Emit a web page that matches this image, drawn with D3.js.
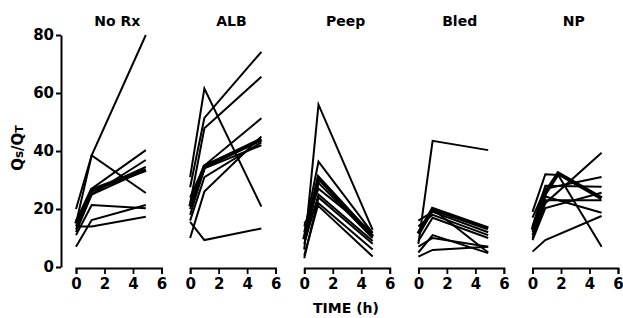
<!DOCTYPE html>
<html><head><meta charset="utf-8">
<script src="https://cdn.jsdelivr.net/npm/d3@7"></script>
<style>body{margin:0;background:#fff}svg{display:block}text{font-family:"DejaVu Sans",sans-serif;font-weight:bold;fill:#000}</style>
</head><body><div id="chart"></div>
<script>
const panelNames = ["No Rx", "ALB", "Peep", "Bled", "NP"];
const yTicks = [0, 20, 40, 60, 80];
const xTicks = [0, 2, 4, 6];

const timesNoRx = [0, 1.1, 4.9];
const linesNoRx = [[20, 38.5, 80], [15, 38.5, 25.5], [14, 27, 40.3], [16, 25, 36.9], [13, 26, 34.5], [12, 25, 33.5], [11, 21.4, 20.3], [7, 16.2, 21.4], [14, 14, 17.3]];
const meanNoRx = [15, 26.5, 33.5];

const timesALB = [0, 1, 5];
const linesALB = [[31, 61.5, 20.8], [27.5, 51.4, 74.2], [22, 47.8, 65.6], [20, 35, 51.3], [10, 26, 45], [15.6, 9.3, 13.3], [18, 34, 42], [24, 35, 44], [16, 31, 43]];
const meanALB = [20.8, 34.6, 44];

const timesPeep = [0, 1, 4.8];
const linesPeep = [[6, 56, 12.8], [12, 36.3, 11.7], [10, 29, 10], [14, 27, 12], [8, 25, 9], [4, 22, 6], [15, 21, 3.6], [3, 24, 8]];
const meanPeep = [9.5, 30.7, 10.5];

const timesBled = [0, 1, 4.9];
const linesBled = [[8, 43.5, 40.3], [16, 19, 12], [14, 18, 11], [9, 17, 10], [12, 20, 5], [7, 10, 7], [3.6, 5.9, 7], [5, 11, 4.8]];
const meanBled = [11.5, 20, 13.3];

const timesNP = [0, 0.9, 1.8, 4.85];
const linesNP = [[5.3, 9.3, null, 17.6], [19, 32, 31.7, 7], [9.3, 20.3, null, 25.6], [10, 22, null, 39.4], [17, 27, null, 31], [12, 24.3, null, 18.7], [14, 28, null, 27.7], [11, 23, null, 23]];
const meanNP = [12.8, 25.5, 32.3, 23.7];

const panels = [
  {name: panelNames[0], times: timesNoRx, lines: linesNoRx, mean: meanNoRx},
  {name: panelNames[1], times: timesALB, lines: linesALB, mean: meanALB},
  {name: panelNames[2], times: timesPeep, lines: linesPeep, mean: meanPeep},
  {name: panelNames[3], times: timesBled, lines: linesBled, mean: meanBled},
  {name: panelNames[4], times: timesNP, lines: linesNP, mean: meanNP}
];

const W = 623, H = 318;
const svg = d3.select("#chart").append("svg").attr("width", W).attr("height", H);

const y = d3.scaleLinear().domain([0, 80]).range([267, 35]);
const x = d3.scaleLinear().domain([0, 6]).range([0, 85.5]);
const panelX = d3.scaleLinear().domain([0, 4]).range([76, 532.5]);

// Y axis
const yAxis = svg.append("g").attr("transform", "translate(61,0)")
  .call(d3.axisLeft(y).tickValues(yTicks).tickSize(5).tickSizeOuter(0).tickPadding(2));
yAxis.selectAll("path,line").attr("stroke", "#000").attr("stroke-width", 2);
yAxis.selectAll("text").style("font-size", "15px").style("font-weight", "bold").attr("font-family", null).attr("fill", "#000");

// Y label
svg.append("text").attr("transform", "translate(23,148) rotate(-90)")
  .attr("text-anchor", "middle").style("font-size", "15px")
  .call(t => { t.append("tspan").text("Q"); t.append("tspan").text("s").style("font-size","12px"); t.append("tspan").text("/Q"); t.append("tspan").text("T").style("font-size","11px"); });

const lineGen = d3.line().defined(d => d[1] != null).x(d => x(d[0])).y(d => y(d[1]));

panels.forEach((p, i) => {
  const g = svg.append("g").attr("transform", `translate(${panelX(i)},0)`);
  const ax = g.append("g").attr("transform", "translate(0,268)")
    .call(d3.axisBottom(x).tickValues(xTicks).tickSize(6).tickSizeOuter(6).tickPadding(4).tickFormat(d3.format("d")));
  ax.selectAll("path,line").attr("stroke", "#000").attr("stroke-width", 1.8);
  ax.selectAll("text").style("font-size", "15px").style("font-weight", "bold").attr("font-family", null).attr("fill", "#000");

  g.append("text").attr("x", x(2.9)).attr("y", 26).attr("text-anchor", "middle").style("font-size", "14px").text(p.name);

  p.lines.forEach(vals => {
    const pts = p.times.map((t, k) => [t, vals[k]]).filter(d => d[1] != null);
    g.append("path").datum(pts).attr("d", lineGen).attr("fill", "none").attr("stroke", "#000").attr("stroke-width", 2).attr("stroke-linejoin", "miter");
  });
  const mpts = p.times.map((t, k) => [t, p.mean[k]]).filter(d => d[1] != null);
  g.append("path").datum(mpts).attr("d", lineGen).attr("fill", "none").attr("stroke", "#000").attr("stroke-width", 4);
});

svg.append("text").attr("x", 346).attr("y", 313).attr("text-anchor", "middle").style("font-size", "14px").text("TIME (h)");
</script></body></html>
